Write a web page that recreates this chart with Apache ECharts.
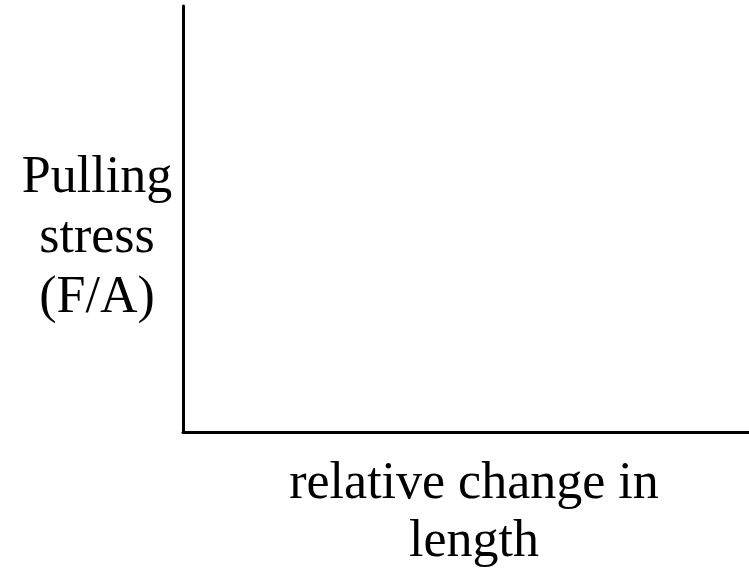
<!DOCTYPE html>
<html>
<head>
<meta charset="utf-8">
<script src="https://cdn.jsdelivr.net/npm/echarts@6/dist/echarts.min.js"></script>
<style>html,body{margin:0;padding:0;background:#fff}#c{width:749px;height:576px}</style>
</head>
<body>
<div id="c"></div>
<script>
const xTitleLines = ["relative change in", "length"];
const yTitleLines = ["Pulling", "stress", "(F/A)"];
const seriesData = [];

const chart = echarts.init(document.getElementById('c'), null, {renderer: 'canvas'});
const fam = '"Liberation Serif", "Times New Roman", serif';
const yName = ['{gap| }'].concat(yTitleLines.map(function (s) { return '{t|' + s + '}'; })).join('\n');
chart.setOption({
  backgroundColor: '#fff',
  animation: false,
  grid: {left: 183, right: 0, top: 6, bottom: 141, containLabel: false},
  xAxis: {
    type: 'value', min: 0, max: 1,
    axisLine: {show: true, onZero: false, lineStyle: {color: '#000', width: 3}},
    axisTick: {show: false}, axisLabel: {show: false}, splitLine: {show: false},
    name: xTitleLines.join('\n'), nameLocation: 'middle', nameGap: 81,
    nameTextStyle: {fontFamily: fam, fontSize: 52, lineHeight: 58, color: '#000',
      align: 'center', verticalAlign: 'middle', padding: [0, 0, 0, 16]}
  },
  yAxis: {
    type: 'value', min: 0, max: 1,
    axisLine: {show: true, onZero: false, lineStyle: {color: '#000', width: 3}},
    axisTick: {show: false}, axisLabel: {show: false}, splitLine: {show: false},
    name: yName, nameLocation: 'middle', nameRotate: 0, nameGap: 86,
    nameTextStyle: {fontFamily: fam, fontSize: 52, lineHeight: 60, color: '#000',
      align: 'center', verticalAlign: 'middle',
      rich: {
        t: {fontFamily: fam, fontSize: 52, lineHeight: 60, color: '#000', align: 'center'},
        gap: {fontFamily: fam, fontSize: 10, lineHeight: 38, color: '#000', align: 'center'}
      }}
  },
  series: [{type: 'line', data: seriesData}]
});
</script>
</body>
</html>
